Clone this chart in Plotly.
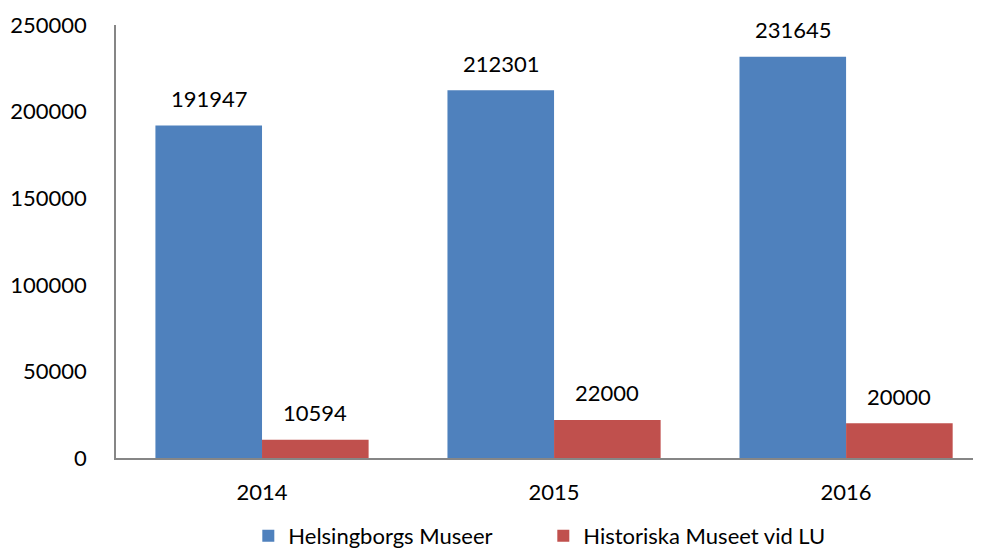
import plotly.graph_objects as go

years = ["2014", "2015", "2016"]
helsingborg = [191947, 212301, 231645]
historiska = [10594, 22000, 20000]
series_names = ["Helsingborgs Museer", "Historiska Museet vid LU"]
colors = ["#4F81BD", "#C0504D"]
y_ticks = [0, 50000, 100000, 150000, 200000, 250000]

font = dict(family="Lato, Open Sans, sans-serif", size=22, color="#000000")

fig = go.Figure()
for name, vals, col in zip(series_names, [helsingborg, historiska], colors):
    fig.add_trace(go.Bar(x=years, y=vals, name=name, marker=dict(color=col, line=dict(width=0))))

annotations = []
for i, vals in enumerate([helsingborg, historiska]):
    shift = -53 if i == 0 else 53
    for j, v in enumerate(vals):
        annotations.append(dict(x=j, y=v, text=str(v), showarrow=False, xshift=shift,
                                yshift=27, font=font, xref="x", yref="y"))

fig.update_layout(
    width=973, height=542,
    margin=dict(l=108, r=0, t=17, b=92, autoexpand=False),
    paper_bgcolor="white", plot_bgcolor="white",
    barmode="group", bargap=0.27, bargroupgap=0,
    font=font,
    showlegend=True,
    legend=dict(orientation="h", x=0.494, xanchor="center", xref="paper",
                y=-0.18, yanchor="middle", yref="paper", font=font,
                traceorder="normal", entrywidth=250, entrywidthmode="pixels"),
    annotations=annotations,
    xaxis=dict(type="category", range=[-0.5, 2.462], showline=True, linecolor="#868686",
               linewidth=1.5, ticks="", showgrid=False, ticklabelstandoff=14, tickfont=font),
    yaxis=dict(range=[0, 250000], tickvals=y_ticks, tickformat="d", showline=True,
               linecolor="#868686", linewidth=1.5, ticks="", showgrid=False, zeroline=False,
               ticklabelstandoff=23, tickfont=font),
)

fig.write_html("out.html")
